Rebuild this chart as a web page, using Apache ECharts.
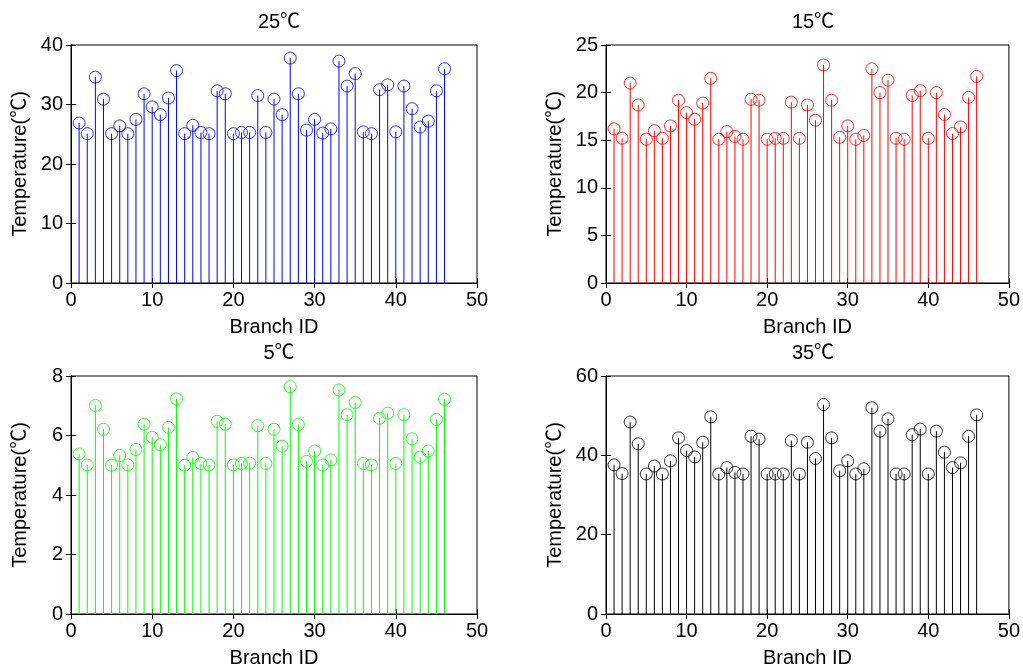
<!DOCTYPE html>
<html>
<head>
<meta charset="utf-8">
<script src="https://cdn.jsdelivr.net/npm/echarts@6/dist/echarts.min.js"></script>
<style>html,body{margin:0;padding:0;background:#fff}#c{width:1023px;height:669px}</style>
</head>
<body>
<div id="c"></div>
<script>
const branchIds = [1,2,3,4,5,6,7,8,9,10,11,12,13,14,15,16,17,18,19,20,21,22,23,24,25,26,27,28,29,30,31,32,33,34,35,36,37,38,39,40,41,42,43,44,45,46];
const temp25 = [26.9,25.1,34.6,30.9,25.1,26.4,25.1,27.5,31.8,29.6,28.3,31.1,35.7,25.1,26.5,25.3,25.1,32.3,31.8,25.1,25.3,25.3,31.5,25.3,30.9,28.3,37.8,31.8,25.7,27.5,25.2,25.9,37.3,33.1,35.2,25.4,25.1,32.5,33.3,25.4,33.1,29.3,26.2,27.2,32.3,36.0];
const temp15 = [16.2,15.2,21.0,18.7,15.1,16.0,15.2,16.5,19.2,17.9,17.2,18.9,21.5,15.1,15.9,15.4,15.1,19.3,19.2,15.1,15.2,15.2,19.0,15.2,18.7,17.1,22.9,19.2,15.3,16.5,15.1,15.5,22.5,20.0,21.3,15.2,15.1,19.7,20.2,15.2,20.0,17.7,15.7,16.4,19.5,21.7];
const temp5 = [5.38,5.01,7.01,6.21,5.0,5.33,5.01,5.53,6.38,5.94,5.69,6.27,7.23,5.0,5.26,5.06,5.01,6.48,6.38,5.01,5.06,5.07,6.33,5.06,6.21,5.64,7.64,6.37,5.13,5.48,5.01,5.18,7.53,6.70,7.11,5.06,5.01,6.58,6.75,5.06,6.70,5.89,5.27,5.48,6.54,7.22];
const temp35 = [37.6,35.4,48.4,42.9,35.3,37.3,35.3,38.6,44.4,41.2,39.6,43.3,49.7,35.3,36.9,35.7,35.3,44.8,44.1,35.3,35.3,35.3,43.7,35.3,43.3,39.2,52.8,44.4,36.1,38.6,35.3,36.6,52.0,46.1,49.2,35.3,35.3,45.2,46.6,35.3,46.1,40.8,36.9,38.1,44.8,50.2];
const panelTitles = ['25℃','15℃','5℃','35℃'];
const yTicks = [[0,40,10],[0,25,5],[0,8,2],[0,60,20]];
const xTicks = [0,50,10];
const xName = 'Branch ID';
const yName = 'Temperature(℃)';

const panelData = [temp25, temp15, temp5, temp35];
const colors = ['#0000ff','#ff0000','#00ff00','#000000'];
const grids = [
  {left:71, top:45, width:406, height:238},
  {left:606, top:45, width:404, height:238},
  {left:71, top:376, width:406, height:238},
  {left:606, top:376, width:404, height:238}
];
const FONT = '"Liberation Sans", "Noto Sans CJK SC", Arial, sans-serif';
const FS = 20;

const option = {animation:false, title:[], grid:[], xAxis:[], yAxis:[], series:[]};
grids.forEach((g,i)=>{
  option.grid.push(Object.assign({show:true, borderColor:'#000', borderWidth:1, backgroundColor:'#fff'}, g));
  option.title.push({text:panelTitles[i], left:g.left+g.width/2, top:g.top-38, textAlign:'center',
    textStyle:{fontFamily:FONT, fontSize:FS, fontWeight:'normal', color:'#000'}});
  const ax = (extra)=>Object.assign({type:'value', gridIndex:i, min:xTicks[0], max:xTicks[1], interval:xTicks[2],
    splitLine:{show:false}, axisLine:{show:true, lineStyle:{color:'#000', width:1}},
    axisTick:{show:true, inside:true, length:5, lineStyle:{color:'#000'}}}, extra);
  option.xAxis.push(ax({position:'bottom', name:xName, nameLocation:'middle', nameGap:34,
    nameTextStyle:{fontFamily:FONT, fontSize:FS, color:'#000'},
    axisLabel:{fontFamily:FONT, fontSize:FS, color:'#000', margin:7}}));
  option.xAxis.push(ax({position:'top', axisLabel:{show:false}}));
  const yt = yTicks[i];
  const ay = (extra)=>Object.assign({type:'value', gridIndex:i, min:yt[0], max:yt[1], interval:yt[2],
    splitLine:{show:false}, axisLine:{show:true, lineStyle:{color:'#000', width:1}},
    axisTick:{show:true, inside:true, length:5, lineStyle:{color:'#000'}}}, extra);
  option.yAxis.push(ay({position:'left', name:yName, nameLocation:'middle', nameGap:41, nameRotate:90,
    nameTextStyle:{fontFamily:FONT, fontSize:FS, color:'#000'},
    axisLabel:{fontFamily:FONT, fontSize:FS, color:'#000', margin:8}}));
  option.yAxis.push(ay({position:'right', axisLabel:{show:false}}));
  const pts = branchIds.map((b,k)=>[b, panelData[i][k]]);
  const col = colors[i];
  option.series.push({type:'custom', xAxisIndex:2*i, yAxisIndex:2*i, data:pts, silent:true,
    renderItem:(params, api)=>{
      const p0 = api.coord([api.value(0), 0]);
      const p1 = api.coord([api.value(0), api.value(1)]);
      return {type:'line', shape:{x1:p0[0], y1:p0[1], x2:p1[0], y2:p1[1]},
        style:{stroke:col, lineWidth:1}};
    }});
  option.series.push({type:'scatter', xAxisIndex:2*i, yAxisIndex:2*i, data:pts, symbol:'circle', symbolSize:12,
    itemStyle:{color:'rgba(0,0,0,0)', borderColor:col, borderWidth:1}, silent:true});
});
const chart = echarts.init(document.getElementById('c'), null, {renderer:'canvas'});
chart.setOption(option);
</script>
</body>
</html>
